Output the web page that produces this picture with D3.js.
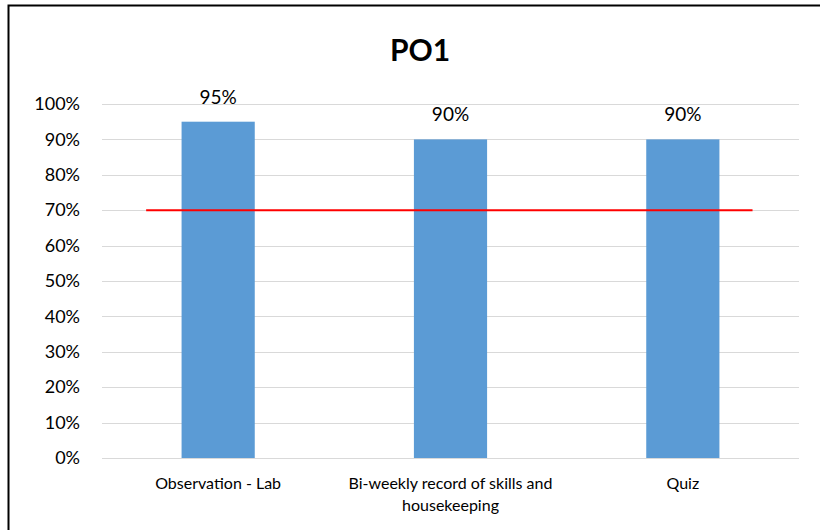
<!DOCTYPE html>
<html>
<head>
<meta charset="utf-8">
<title>PO1</title>
<style>
  html, body { margin: 0; background: #fff; overflow: hidden; }
  svg { display: block; font-family: Lato, 'Open Sans', sans-serif; }
</style>
</head>
<body>
<div id="chart"></div>
<script src="https://d3js.org/d3.v7.min.js"></script>
<script>
// chart data
const categories = ['Observation - Lab', 'Bi-weekly record of skills and housekeeping', 'Quiz']
const scores = [95, 90, 90]
const yTicks = [0, 10, 20, 30, 40, 50, 60, 70, 80, 90, 100]
const target = 70
// target line runs from a bit left of the first bar to a bit right of the last (in category index units)
const targetSpan = [-0.31, 2.3]

const svgWidth = 820
const svgHeight = 530
const margin = { left: 102, right: 21, top: 104, bottom: 72 }
const width = svgWidth - margin.left - margin.right
const height = svgHeight - margin.top - margin.bottom

const svg = d3.select('#chart')
  .append('svg')
  .attr('width', svgWidth)
  .attr('height', svgHeight)

// outer frame: only the top and left edges are inside the picture
svg.append('path')
  .attr('d', `M8.5,${svgHeight}V5.5H${svgWidth}`)
  .attr('fill', 'none')
  .attr('stroke', '#000')
  .attr('stroke-width', 2)

svg.append('text')
  .attr('x', 420)
  .attr('y', 61)
  .attr('text-anchor', 'middle')
  .attr('font-size', 30)
  .attr('font-weight', 'bold')
  .attr('fill', '#000')
  .text('PO1')

const g = svg.append('g')
  .attr('transform', `translate(${margin.left},${margin.top})`)

const x = d3.scaleBand()
  .domain(categories)
  .range([0, width])
  .padding(0)

const y = d3.scaleLinear()
  .domain([0, 100])
  .range([height, 0])

// index -> band centre, for the target line
const xi = d3.scaleLinear()
  .domain([0, categories.length - 1])
  .range([x(categories[0]) + x.bandwidth() / 2, x(categories[categories.length - 1]) + x.bandwidth() / 2])

// gridlines
g.append('g')
  .selectAll('line')
  .data(yTicks)
  .join('line')
  .attr('x1', 0)
  .attr('x2', width)
  .attr('y1', d => Math.round(y(d)) + 0.5)
  .attr('y2', d => Math.round(y(d)) + 0.5)
  .attr('stroke', '#d9d9d9')
  .attr('stroke-width', 1)

// y axis labels
const yAxis = g.append('g')
  .call(d3.axisLeft(y).tickValues(yTicks).tickFormat(d => d + '%').tickSize(0).tickPadding(22))
yAxis.select('.domain').remove()
yAxis.selectAll('text')
  .attr('font-family', 'Lato, sans-serif')
  .attr('font-size', 18)
  .attr('fill', '#000')

const barW = x.bandwidth() * 0.315

g.append('g')
  .selectAll('rect')
  .data(scores)
  .join('rect')
  .attr('x', (d, i) => x(categories[i]) + (x.bandwidth() - barW) / 2)
  .attr('y', d => y(d))
  .attr('width', barW)
  .attr('height', d => height - y(d))
  .attr('fill', '#5b9bd5')

// value labels
g.append('g')
  .selectAll('text')
  .data(scores)
  .join('text')
  .attr('x', (d, i) => x(categories[i]) + x.bandwidth() / 2)
  .attr('y', d => y(d) - 18)
  .attr('text-anchor', 'middle')
  .attr('font-size', 19)
  .attr('fill', '#000')
  .text(d => d + '%')

// target line
const line = d3.line()
  .x(d => xi(d))
  .y(() => y(target))

g.append('path')
  .datum(targetSpan)
  .attr('d', line)
  .attr('fill', 'none')
  .attr('stroke', '#ff0000')
  .attr('stroke-width', 2)

// category labels, wrapped
const xAxis = g.append('g')
  .attr('transform', `translate(0,${height})`)

const labelSize = 16

function wrap(text, maxW) {
  const words = text.split(' ')
  const lines = []
  let cur = ''
  const tmp = svg.append('text').attr('font-size', labelSize)
  words.forEach(w => {
    const test = cur ? cur + ' ' + w : w
    tmp.text(test)
    if (tmp.node().getComputedTextLength() > maxW && cur) {
      lines.push(cur)
      cur = w
    } else {
      cur = test
    }
  })
  lines.push(cur)
  tmp.remove()
  return lines
}

categories.forEach(c => {
  const t = xAxis.append('text')
    .attr('x', x(c) + x.bandwidth() / 2)
    .attr('y', 31)
    .attr('text-anchor', 'middle')
    .attr('font-size', labelSize)
    .attr('fill', '#000')
  wrap(c, x.bandwidth() * 0.96).forEach((l, i) => {
    t.append('tspan')
      .attr('x', x(c) + x.bandwidth() / 2)
      .attr('dy', i === 0 ? 0 : 22)
      .text(l)
  })
})
</script>
</body>
</html>
